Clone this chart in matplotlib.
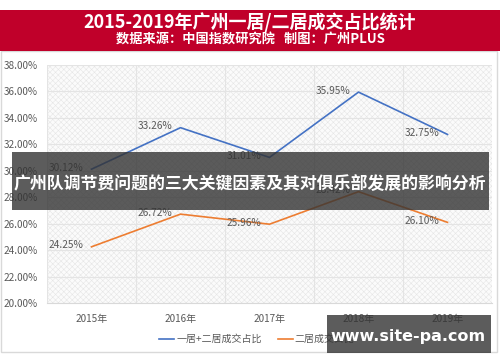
import matplotlib
matplotlib.use("Agg")
import matplotlib.pyplot as plt
from matplotlib.patches import Rectangle

plt.rcParams['font.family'] = ['Noto Sans CJK SC', 'DejaVu Sans']
plt.rcParams['hatch.linewidth'] = 0.4
plt.rcParams['hatch.color'] = '#e4e4e4'

years = ['2015年', '2016年', '2017年', '2018年', '2019年']
total_share = [30.12, 33.26, 31.01, 35.95, 32.75]
second_share = [24.25, 26.72, 25.96, 28.42, 26.10]
series_names = ['一居+二居成交占比', '二居成交占比']
yticks = [20, 22, 24, 26, 28, 30, 32, 34, 36, 38]

W, H = 500, 362
fig = plt.figure(figsize=(W / 100, H / 100), dpi=100)
fig.patch.set_facecolor('white')

def fx(x):
    return x / W

def fy(y):
    return 1 - y / H

# outer frame
fig.patches.append(Rectangle((fx(1), fy(352)), fx(496), (352 - 51) / H, transform=fig.transFigure,
                             facecolor='none', edgecolor='#d9d9d9', lw=1, zorder=5))
# red title bar
fig.patches.append(Rectangle((0, fy(51)), 1, 41 / H, transform=fig.transFigure,
                             facecolor='#C0002A', edgecolor='none', zorder=6))
fig.text(0.5, fy(22), '2015-2019年广州一居/二居成交占比统计', color='white', fontsize=13,
         fontweight='bold', ha='center', va='center', zorder=7)
fig.text(0.5, fy(40), '数据来源：中国指数研究院   制图：广州PLUS', color='white', fontsize=9.5,
         fontweight='bold', ha='center', va='center', zorder=7)

ax = fig.add_axes([fx(47), fy(303), fx(492 - 47), (303 - 65) / H])
ax.set_facecolor('#fbfbfb')
ax.add_patch(Rectangle((0, 0), 1, 1, transform=ax.transAxes, facecolor='none',
                       hatch='xxxxxx', edgecolor='#e6e6e6', lw=0, zorder=0))

x = list(range(len(years)))
ax.plot(x, total_share, color='#4472C4', lw=1.2, zorder=3, label=series_names[0])
ax.plot(x, second_share, color='#ED7D31', lw=1.2, zorder=3, label=series_names[1])

for xi, v in zip(x, total_share):
    ax.annotate(f'{v:.2f}%', (xi, v), xytext=(-6, 1), textcoords='offset points',
                ha='right', va='center', fontsize=7.3, color='#595959')
for xi, v in zip(x, second_share):
    ax.annotate(f'{v:.2f}%', (xi, v), xytext=(-6, 1), textcoords='offset points',
                ha='right', va='center', fontsize=7.3, color='#595959')

ax.set_xlim(-0.5, 4.5)
ax.set_ylim(20, 38)
ax.set_yticks(yticks)
ax.set_yticklabels([f'{t:.2f}%' for t in yticks])
ax.set_xticks(x)
ax.set_xticklabels(years)
ax.set_xticks([i - 0.5 for i in range(6)] + x, minor=True)
ax.grid(True, which='minor', axis='x', color='#e4e4e4', lw=0.8)
ax.grid(True, which='major', axis='y', color='#e4e4e4', lw=0.8)
ax.set_axisbelow(True)
ax.tick_params(axis='both', which='both', length=0, labelsize=7.2, labelcolor='#595959')
ax.tick_params(axis='x', pad=8)
ax.tick_params(axis='y', pad=6.5)
for s in ['top', 'right', 'left']:
    ax.spines[s].set_visible(False)
ax.spines['bottom'].set_color('#d9d9d9')

fig.legend(loc='center', bbox_to_anchor=(fx(257), fy(339)), ncol=2, frameon=False,
           fontsize=7.2, labelcolor='#595959', handlelength=1.5, handletextpad=0.2,
           columnspacing=1.6)

# dark banner overlay
fig.patches.append(Rectangle((fx(12), fy(210)), fx(489 - 12), 58 / H, transform=fig.transFigure,
                             facecolor='#333333', alpha=0.8, edgecolor='none', zorder=10))
fig.text(fx(250), fy(184), '广州队调节费问题的三大关键因素及其对俱乐部发展的影响分析', color='white',
         fontsize=12.2, fontweight='bold', ha='center', va='center', zorder=11)

# watermark
fig.patches.append(Rectangle((fx(327), fy(353)), fx(491 - 327), 38 / H, transform=fig.transFigure,
                             facecolor='#333333', alpha=0.8, edgecolor='none', zorder=10))
fig.text(fx(408), fy(336), 'www.site-pa.com', color='white', fontsize=11.5, fontweight='bold',
         ha='center', va='center', zorder=11, family='DejaVu Sans')

fig.savefig('out.png', dpi=100)
